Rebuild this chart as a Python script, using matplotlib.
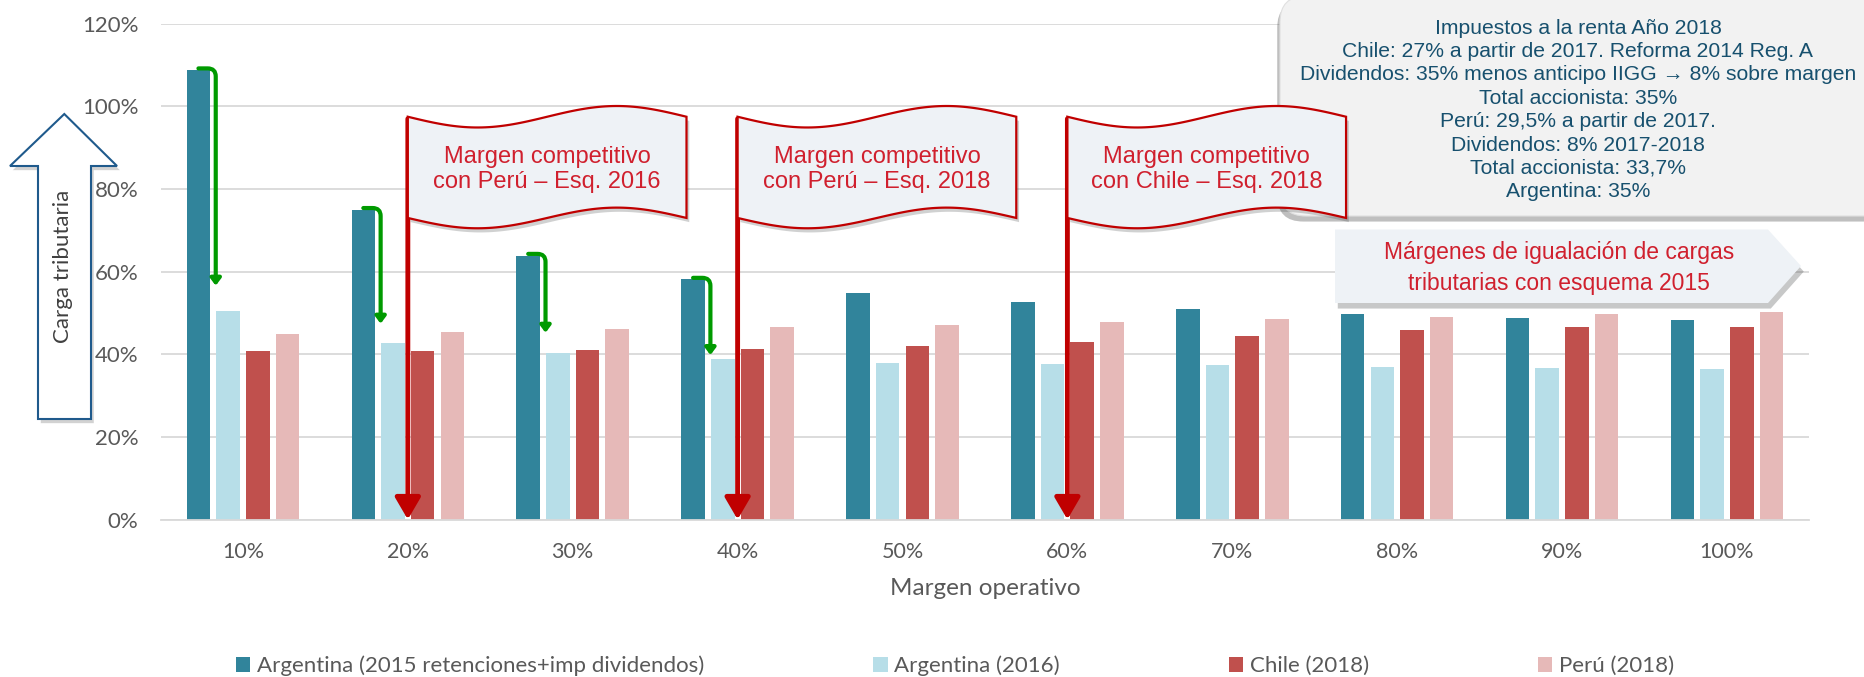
import matplotlib
matplotlib.use("Agg")
import matplotlib.pyplot as plt
import matplotlib.patches as mpatches
import matplotlib.transforms as mtransforms
import matplotlib.patheffects as pe
import numpy as np

# --- data (percent) ---
categories = ["10%", "20%", "30%", "40%", "50%", "60%", "70%", "80%", "90%", "100%"]
series_names = [
    "Argentina (2015 retenciones+imp dividendos)",
    "Argentina (2016)",
    "Chile (2018)",
    "Perú (2018)",
]
arg_2015 = [108.8, 75.0, 63.9, 58.1, 54.8, 52.6, 50.9, 49.8, 48.9, 48.2]
arg_2016 = [50.5, 42.8, 40.2, 38.9, 38.0, 37.6, 37.3, 37.0, 36.6, 36.4]
chile_2018 = [40.8, 40.9, 41.0, 41.2, 41.9, 43.0, 44.4, 45.8, 46.6, 46.6]
peru_2018 = [44.8, 45.4, 46.1, 46.5, 47.1, 47.9, 48.6, 49.1, 49.7, 50.2]
colors = ["#31849B", "#B7DEE8", "#C0504D", "#E6B9B8"]

# green "drop" arrows: 2015 -> 2016 for the first margins
green_idx = [0, 1, 2, 3]
green_end = [56.6, 47.4, 45.2, 39.8]

# flags
flag_idx = [1, 3, 5]
flag_texts = [
    "Margen competitivo\ncon Perú – Esq. 2016",
    "Margen competitivo\ncon Perú – Esq. 2018",
    "Margen competitivo\ncon Chile – Esq. 2018",
]

info_text = ("Impuestos a la renta Año 2018\n"
             "Chile: 27% a partir de 2017. Reforma 2014 Reg. A\n"
             "Dividendos: 35% menos anticipo IIGG \u2192 8% sobre margen\n"
             "Total accionista: 35%\n"
             "Perú: 29,5% a partir de 2017.\n"
             "Dividendos: 8% 2017-2018\n"
             "Total accionista: 33,7%\n"
             "Argentina: 35%")
igual_text = "Márgenes de igualación de cargas\ntributarias con esquema 2015"

plt.rcParams["font.family"] = ["Lato", "DejaVu Sans"]
ARIAL = ["Liberation Sans", "DejaVu Sans"]
GREY = "#595959"
RED_TXT = "#D0202E"
FLAG_RED = "#C00000"
BOX_FILL = "#EEF2F6"

W, H = 1864, 677
fig = plt.figure(figsize=(W / 100, H / 100), dpi=100)
ax = fig.add_axes([160.5 / W, 1 - 519.5 / H, (1809.4 - 160.5) / W, (519.5 - 23.8) / H])

# pixel transform (origin top-left) for the free shapes
px = mtransforms.Affine2D().scale(1 / W, -1 / H).translate(0, 1) + fig.transFigure
shadow = [pe.SimplePatchShadow(offset=(2, -3), alpha=0.25), pe.Normal()]

x = np.arange(len(categories))
step, bw = 0.18, 0.143
all_series = [arg_2015, arg_2016, chile_2018, peru_2018]
handles = []
for k, (vals, c) in enumerate(zip(all_series, colors)):
    b = ax.bar(x + (k - 1.5) * step, vals, width=bw, color=c, zorder=2)
    handles.append(b)

ax.set_xlim(-0.5, len(categories) - 0.5)
ax.set_ylim(0, 120)
ax.set_yticks(range(0, 121, 20))
ax.set_yticklabels([f"{v}%" for v in range(0, 121, 20)])
ax.set_xticks(x)
ax.set_xticklabels(categories)
ax.tick_params(axis="y", length=0, pad=16, labelsize=16, labelcolor=GREY)
ax.tick_params(axis="x", length=0, pad=16, labelsize=15.5, labelcolor=GREY)
ax.yaxis.grid(True, color="#D9D9D9", lw=1.3)
ax.set_axisbelow(True)
for s in ["top", "left", "right"]:
    ax.spines[s].set_visible(False)
ax.spines["bottom"].set_color("#D9D9D9")
ax.spines["bottom"].set_linewidth(1.3)
ax.set_xlabel("Margen operativo", fontsize=17.5, color=GREY, labelpad=12)

# green bent arrows
for i, yend in zip(green_idx, green_end):
    ax.annotate("", xy=(i - 0.165, yend), xytext=(i - 1.5 * step, arg_2015[i] + 0.4),
                arrowprops=dict(arrowstyle="-|>,head_length=0.4,head_width=0.3",
                                connectionstyle="angle,angleA=0,angleB=90,rad=8",
                                lw=3, color="#009A00", shrinkA=0, shrinkB=0),
                zorder=4)

# info box (top right)
info = mpatches.FancyBboxPatch((1280, -4), 640, 220,
                               boxstyle="round,pad=0,rounding_size=26",
                               transform=px, facecolor="#F2F2F2", edgecolor="#E0E0E0",
                               lw=0.8, clip_on=False, zorder=5)
info.set_path_effects([pe.SimplePatchShadow(offset=(-2, -4), alpha=0.35), pe.Normal()])
ax.add_patch(info)
fig.text(1578 / W, 1 - 110 / H, info_text, ha="center", va="center", fontsize=15.2,
         family=ARIAL, color="#17506E", linespacing=1.29, zorder=6)

# flags with poles
flag_w = 1.69
t = np.linspace(0, 1, 80)
for i, txt in zip(flag_idx, flag_texts):
    x0 = i
    ax.annotate("", xy=(x0, 0), xytext=(x0, 97),
                arrowprops=dict(arrowstyle="-|>,head_length=0.6,head_width=0.35",
                                lw=3.5, color=FLAG_RED, shrinkA=0, shrinkB=0,
                                mutation_scale=22),
                annotation_clip=False, zorder=5.5)
    top = 97.5 - 2.6 * np.sin(2 * np.pi * t)
    bot = 73.0 - 2.5 * np.sin(2 * np.pi * t)
    xs = x0 + flag_w * t
    verts = np.column_stack([np.r_[xs, xs[::-1]], np.r_[top, bot[::-1]]])
    flag = mpatches.Polygon(verts, closed=True, facecolor=BOX_FILL, edgecolor=FLAG_RED,
                            lw=1.6, clip_on=False, zorder=6)
    flag.set_path_effects(shadow)
    ax.add_patch(flag)
    ax.text(x0 + flag_w / 2, 84.7, txt, ha="center", va="center", fontsize=17,
            family=ARIAL, color=RED_TXT, linespacing=1.2, zorder=7)

# "Márgenes de igualación" pentagon
pent = mpatches.Polygon([(1335, 229.5), (1768, 229.5), (1801, 266), (1768, 303), (1335, 303)],
                        closed=True, transform=px, facecolor=BOX_FILL, edgecolor="none",
                        clip_on=False, zorder=5)
pent.set_path_effects([pe.SimplePatchShadow(offset=(2, -4), alpha=0.3), pe.Normal()])
ax.add_patch(pent)
fig.text(1559 / W, 1 - 268 / H, igual_text, ha="center", va="center", fontsize=16.5,
         family=ARIAL, color=RED_TXT, linespacing=1.4, zorder=7)

# hollow up arrow "Carga tributaria"
up = mpatches.Polygon([(64.3, 114), (117, 166), (91, 166), (91, 419), (38, 419), (38, 166), (10, 166)],
                      closed=True, transform=px, facecolor="white", edgecolor="#1F5A8C",
                      lw=1.5, clip_on=False, zorder=5)
up.set_path_effects(shadow)
ax.add_patch(up)
fig.text(63 / W, 1 - 266 / H, "Carga tributaria", rotation=90, ha="center", va="center",
         fontsize=16, color="#404040", zorder=7)

fig.legend(handles, series_names, loc="center", bbox_to_anchor=(955 / W, 1 - 666 / H),
           ncol=4, frameon=False, fontsize=16, columnspacing=7.6, handlelength=0.65,
           handleheight=0.65, handletextpad=0.3, labelcolor=GREY, borderpad=0.1)

fig.savefig("out.png", dpi=100)
